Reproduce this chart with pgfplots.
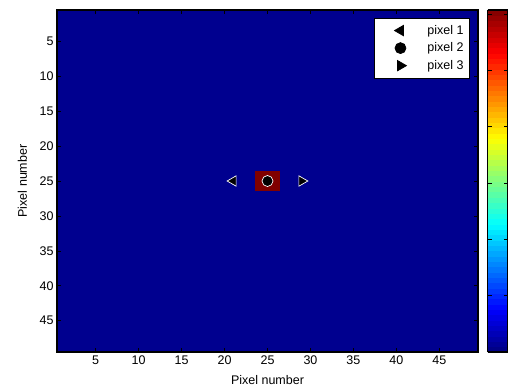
\documentclass[border=0pt]{standalone}
\usepackage{pgfplots}
\pgfplotsset{compat=1.18}
\usepackage{fontspec}
\setmainfont{Liberation Sans}
\definecolor{jetlo}{rgb}{0,0,0.5625}
\definecolor{jethi}{rgb}{0.5,0,0}
\pgfplotsset{mylegimg/.style={legend image code/.code={\path[draw=none,fill=none] (0pt,-5pt) rectangle (47pt,5pt); \draw[##1, every mark/.append style={draw=black}] plot coordinates {(22pt,0pt)};}}}
\begin{document}
\begin{tikzpicture}
\begin{axis}[
  scale only axis,
  width=421pt, height=342pt,
  xmin=0.5, xmax=49.5, ymin=0.5, ymax=49.5,
  y dir=reverse,
  axis on top,
  axis background/.style={fill=jetlo},
  xtick={5,10,...,45}, ytick={5,10,...,45},
  tick align=inside,
  xtick pos=both, ytick pos=both,
  major tick length=4pt,
  axis line style={line width=1.1pt},
  every tick/.style={black, line width=0.6pt},
  /pgf/number format/assume math mode=true,
  tick label style={font=\fontsize{12.5}{14}\selectfont},
  label style={font=\fontsize{12.5}{14}\selectfont},
  xlabel={Pixel number}, ylabel={Pixel number},
  xlabel style={at={(axis description cs:0.5,-0.0819)}, anchor=center},
  ylabel style={at={(axis description cs:-0.082,0.5)}, anchor=center},
  colormap={matjet}{rgb(0pt)=(0,0,0.5); rgb(1pt)=(0,0,1); rgb(3pt)=(0,1,1); rgb(5pt)=(1,1,0); rgb(7pt)=(1,0,0); rgb(8pt)=(0.5,0,0)},
  point meta min=0, point meta max=6.07,
  colorbar sampled,
  colorbar style={
    at={(parent axis.north east)}, anchor=north west, xshift=1pt,
    scale only axis, width=20pt, height=342pt,
    samples=65,
    ytick={1,2,3,4,5,6}, yticklabels={},
    ytick pos=both, tick align=inside, major tick length=4pt,
    axis line style={line width=1.1pt},
  },
  legend style={at={(axis description cs:0.981,0.977)}, anchor=north east,
    draw=black, line width=0.8pt, fill=white, font=\fontsize{12.5}{14}\selectfont,
    inner xsep=4pt, inner ysep=5pt, row sep=3pt},
  legend cell align=left,
]
\addplot[draw=none, fill=jethi, forget plot] coordinates {(23.5,23.5) (26.5,23.5) (26.5,26.5) (23.5,26.5)} -- cycle;
\addplot[only marks, mark=triangle*, mark size=6pt, mark options={rotate=90, fill=black, draw=white, line width=0.7pt}, mylegimg]
  coordinates {(21,25)};
\addlegendentry{pixel 1}
\addplot[only marks, mark=*, mark size=5.5pt, mark options={fill=black, draw=white, line width=0.7pt}, mylegimg]
  coordinates {(25,25)};
\addlegendentry{pixel 2}
\addplot[only marks, mark=triangle*, mark size=6pt, mark options={rotate=-90, fill=black, draw=white, line width=0.7pt}, mylegimg]
  coordinates {(29,25)};
\addlegendentry{pixel 3}
\coordinate (bl) at (axis description cs:0,0);
\end{axis}
\pgfresetboundingbox
\path[use as bounding box] ([shift={(-57pt,-36pt)}]bl) rectangle ([shift={(453pt,352pt)}]bl);
\end{tikzpicture}
\end{document}
